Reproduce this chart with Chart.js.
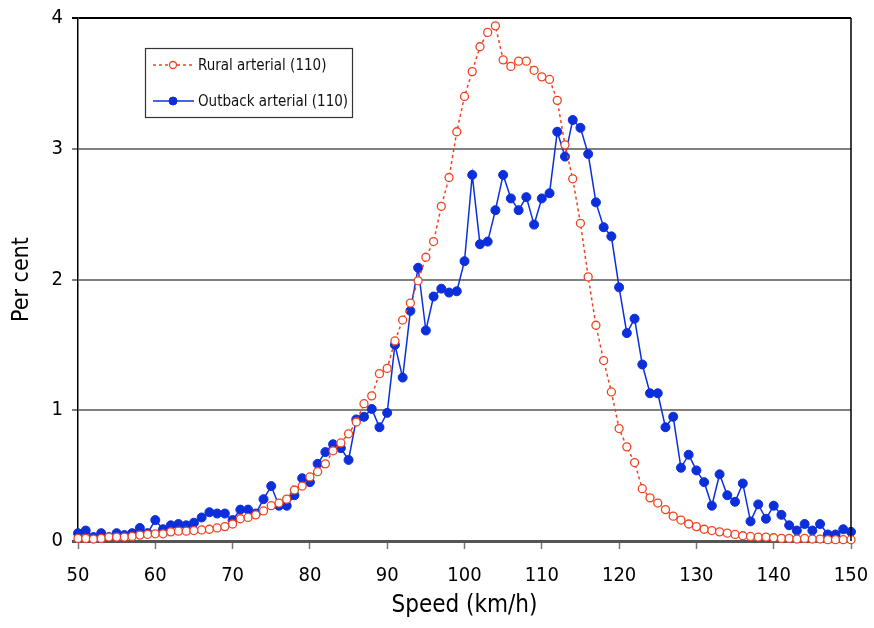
<!DOCTYPE html>
<html>
<head>
<meta charset="utf-8">
<script src="https://cdn.jsdelivr.net/npm/chart.js@4/dist/chart.umd.min.js"></script>
<style>
  html, body { margin: 0; padding: 0; background: #fff; }
  #wrap { width: 874px; height: 628px; }
</style>
</head>
<body>
<div id="wrap"><canvas id="speedChart" width="874" height="628"></canvas></div>
<script>
// speed bins, 1 km/h each
const speeds = Array.from({length: 101}, (_, i) => 50 + i);

const rural = [
  0.02, 0.02, 0.015, 0.02, 0.03, 0.03, 0.03, 0.035, 0.045, 0.05,
  0.055, 0.055, 0.07, 0.075, 0.075, 0.08, 0.085, 0.09, 0.10, 0.11,
  0.13, 0.17, 0.18, 0.20, 0.23, 0.27, 0.29, 0.32, 0.39, 0.42,
  0.49, 0.53, 0.59, 0.69, 0.75, 0.82, 0.91, 1.05, 1.11, 1.28,
  1.32, 1.53, 1.69, 1.82, 1.99, 2.17, 2.29, 2.56, 2.78, 3.13,
  3.40, 3.59, 3.78, 3.89, 3.94, 3.68, 3.63, 3.67, 3.67, 3.60,
  3.55, 3.53, 3.37, 3.03, 2.77, 2.43, 2.02, 1.65, 1.38, 1.14,
  0.86, 0.72, 0.60, 0.40, 0.33, 0.29, 0.24, 0.19, 0.16, 0.13,
  0.11, 0.09, 0.08, 0.07, 0.06, 0.05, 0.04, 0.035, 0.03, 0.03,
  0.025, 0.02, 0.02, 0.015, 0.02, 0.015, 0.015, 0.01, 0.01, 0.01,
  0.01
];

const outback = [
  0.06, 0.08, 0.03, 0.06, 0.03, 0.06, 0.045, 0.06, 0.10, 0.06,
  0.16, 0.09, 0.12, 0.13, 0.12, 0.14, 0.18, 0.22, 0.21, 0.21,
  0.16, 0.24, 0.24, 0.21, 0.32, 0.42, 0.27, 0.27, 0.35, 0.48,
  0.45, 0.59, 0.68, 0.74, 0.71, 0.62, 0.93, 0.95, 1.01, 0.87,
  0.98, 1.50, 1.25, 1.76, 2.09, 1.61, 1.87, 1.93, 1.90, 1.91,
  2.14, 2.80, 2.27, 2.29, 2.53, 2.80, 2.62, 2.53, 2.63, 2.42,
  2.62, 2.66, 3.13, 2.94, 3.22, 3.16, 2.96, 2.59, 2.40, 2.33,
  1.94, 1.59, 1.70, 1.35, 1.13, 1.13, 0.87, 0.95, 0.56, 0.66,
  0.54, 0.45, 0.27, 0.51, 0.35, 0.30, 0.44, 0.15, 0.28, 0.17,
  0.27, 0.20, 0.12, 0.08, 0.13, 0.08, 0.13, 0.05, 0.05, 0.09,
  0.07
];

const seriesNames = ["Rural arterial (110)", "Outback arterial (110)"];

const RED = "#f0421f";
const BLUE = "#0b2fdc";
const FONT = "'Liberation Sans Narrow', 'DejaVu Sans Condensed', 'Roboto', sans-serif";

function pairs(values){
  return values.map((v, i) => ({x: speeds[i], y: v}));
}

// boxed legend inside the plot + right frame line
const boxLegend = {
  id: "boxLegend",
  afterDraw(chart){
    const ctx = chart.ctx;
    const area = chart.chartArea;

    ctx.save();
    ctx.strokeStyle = "#000";
    ctx.lineWidth = 1.5;
    ctx.beginPath();
    ctx.moveTo(area.right, area.top);
    ctx.lineTo(area.right, area.bottom);
    ctx.stroke();

    ctx.strokeStyle = "#333";
    ctx.lineWidth = 1.2;
    ctx.strokeRect(145.5, 48.5, 207, 69);

    const rows = [65, 101];
    chart.data.datasets.forEach((ds, i) => {
      const y = rows[i];
      ctx.strokeStyle = ds.borderColor;
      ctx.lineWidth = ds.borderWidth;
      ctx.setLineDash(ds.borderDash || []);
      ctx.beginPath();
      ctx.moveTo(153, y);
      ctx.lineTo(194, y);
      ctx.stroke();
      ctx.setLineDash([]);

      ctx.beginPath();
      ctx.arc(173, y, i === 0 ? 3.5 : 4, 0, Math.PI * 2);
      ctx.fillStyle = ds.pointBackgroundColor;
      ctx.fill();
      ctx.lineWidth = ds.pointBorderWidth;
      ctx.strokeStyle = ds.pointBorderColor;
      ctx.stroke();

      ctx.fillStyle = "#111";
      ctx.font = "15px " + FONT;
      ctx.textBaseline = "middle";
      ctx.textAlign = "left";
      ctx.fillText(ds.label, 198, y + 1);
    });
    ctx.restore();
  }
};

new Chart(document.getElementById("speedChart"), {
  type: "line",
  data: {
    datasets: [
      {
        label: seriesNames[0],
        data: pairs(rural),
        borderColor: RED,
        borderWidth: 1.5,
        borderDash: [3, 3],
        pointRadius: 4,
        pointBackgroundColor: "#fff",
        pointBorderColor: RED,
        pointBorderWidth: 1.3,
        tension: 0,
        clip: false
      },
      {
        label: seriesNames[1],
        data: pairs(outback),
        borderColor: BLUE,
        borderWidth: 1.5,
        pointRadius: 4.5,
        pointBackgroundColor: BLUE,
        pointBorderColor: BLUE,
        pointBorderWidth: 1,
        tension: 0,
        clip: false
      }
    ]
  },
  options: {
    responsive: false,
    animation: false,
    layout: { padding: { left: 0, right: 23, top: 18, bottom: 0 } },
    plugins: {
      legend: { display: false },
      tooltip: { enabled: false }
    },
    scales: {
      x: {
        type: "linear",
        min: 50,
        max: 150,
        afterFit: s => { s.height = 87; s.paddingLeft = 0; s.paddingRight = 0; },
        ticks: {
          stepSize: 10,
          color: "#000",
          padding: 15,
          font: { family: FONT, size: 20 }
        },
        grid: {
          drawOnChartArea: false,
          drawTicks: true,
          tickLength: 8,
          tickColor: "#777",
          tickWidth: 1.5
        },
        border: { color: "#555", width: 3 },
        title: {
          display: true,
          text: "Speed (km/h)",
          color: "#000",
          font: { family: FONT, size: 24, lineHeight: 1.2 },
          padding: { top: 0, bottom: 8 }
        }
      },
      y: {
        min: 0,
        max: 4,
        afterFit: s => { s.width = 78; s.paddingTop = 0; s.paddingBottom = 0; },
        ticks: {
          stepSize: 1,
          color: "#000",
          padding: 9,
          font: { family: FONT, size: 20 }
        },
        grid: {
          drawTicks: true,
          tickLength: 6,
          color: c => c.tick.value === 4 ? "#000" : (c.tick.value === 0 ? "#555" : "#808080"),
          lineWidth: c => c.tick.value === 0 ? 3 : 2
        },
        border: { color: "#000", width: 1.5 },
        title: {
          display: true,
          text: "Per cent",
          color: "#000",
          font: { family: FONT, size: 23, lineHeight: 1.2 },
          padding: { top: 8, bottom: 0 }
        }
      }
    }
  },
  plugins: [boxLegend]
});
</script>
</body>
</html>
